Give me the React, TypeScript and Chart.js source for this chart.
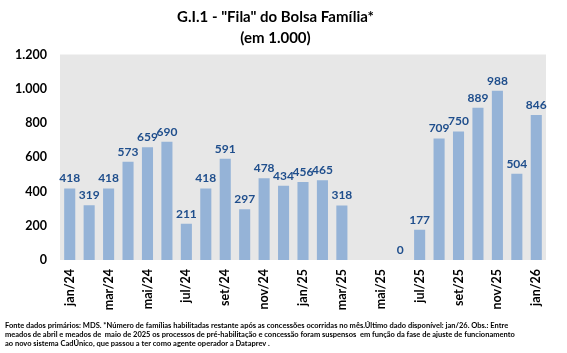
import React, { useEffect, useRef } from 'react';
import { Chart, registerables } from 'chart.js';

Chart.register(...registerables);

const categories = ['jan/24','fev/24','mar/24','abr/24','mai/24','jun/24','jul/24','ago/24','set/24','out/24','nov/24','dez/24','jan/25','fev/25','mar/25','abr/25','mai/25','jun/25','jul/25','ago/25','set/25','out/25','nov/25','dez/25','jan/26'];
const filaValues: (number | null)[] = [418,319,418,573,659,690,211,418,591,297,478,434,456,465,318,null,null,0,177,709,750,889,988,504,846];
const yTicks = [0, 200, 400, 600, 800, 1000, 1200];
const titleLines = ['G.I.1 - "Fila" do Bolsa Família*', '(em 1.000)'];
const footnoteLines = [
  'Fonte dados primários: MDS. *Número de famílias habilitadas restante após as concessões ocorridas no mês.Último dado disponível: jan/26. Obs.: Entre',
  'meados de abril e meados de  maio de 2025 os processos de pré-habilitação e concessão foram suspensos  em função da fase de ajuste de funcionamento',
  'ao novo sistema CadÚnico, que passou a ter como agente operador a Dataprev .',
];

const FONT = 'Lato, "Noto Sans", sans-serif';

function fmt(v: number): string {
  if (v >= 1000) return `${Math.floor(v / 1000)}.${String(v % 1000).padStart(3, '0')}`;
  return String(v);
}

const bgPlugin = {
  id: 'plotBg',
  beforeDatasetsDraw(chart: any) {
    const { ctx, chartArea } = chart;
    ctx.save();
    ctx.fillStyle = '#E7E7E7';
    ctx.fillRect(chartArea.left, chartArea.top, chartArea.right - chartArea.left, chartArea.bottom - chartArea.top);
    ctx.restore();
  },
};

const labelPlugin = {
  id: 'valueLabels',
  afterDatasetsDraw(chart: any) {
    const { ctx } = chart;
    const meta = chart.getDatasetMeta(0);
    const data = chart.data.datasets[0].data;
    ctx.save();
    ctx.font = `bold 12px ${FONT}`;
    ctx.fillStyle = '#1F4E8C';
    ctx.textAlign = 'center';
    ctx.textBaseline = 'middle';
    meta.data.forEach((bar: any, i: number) => {
      const v = data[i];
      if (v === null || v === undefined) return;
      ctx.fillText(String(v), bar.x, bar.y - 10);
    });
    ctx.restore();
  },
};

export default function App() {
  const ref = useRef<HTMLCanvasElement>(null);
  useEffect(() => {
    document.body.style.margin = '0';
    const chart = new Chart(ref.current!, {
      type: 'bar',
      data: {
        labels: categories,
        datasets: [{
          data: filaValues,
          backgroundColor: '#95B3D7',
          barPercentage: 0.57,
          categoryPercentage: 1,
        }],
      },
      options: {
        responsive: false,
        animation: false,
        layout: { padding: { left: 5, right: 21, top: 0, bottom: 0 } },
        plugins: {
          legend: { display: false },
          tooltip: { enabled: false },
          title: {
            display: true,
            text: titleLines,
            color: '#000',
            font: { family: FONT, size: 15, weight: 'bold', lineHeight: 1.45 },
            padding: { top: 6, bottom: 5 },
          },
          subtitle: {
            display: true,
            position: 'bottom',
            align: 'start',
            text: footnoteLines,
            color: '#000',
            font: { family: FONT, size: 7.5, weight: 'bold', lineHeight: 1.2 },
            padding: { top: 4, bottom: 5 },
          },
        },
        scales: {
          x: {
            grid: { display: false, drawTicks: false },
            border: { display: false },
            ticks: {
              autoSkip: false,
              minRotation: 90,
              maxRotation: 90,
              padding: 9,
              color: '#000',
              font: { family: FONT, size: 12.5, weight: 'bold' },
              callback: (_v: any, i: number) => (i % 2 === 0 ? categories[i] : ''),
            },
            afterFit: (s: any) => { s.height = 57; },
          },
          y: {
            min: 0,
            max: 1200,
            grid: { display: false, drawTicks: false },
            border: { display: false },
            afterBuildTicks: (s: any) => { s.ticks = yTicks.map((v) => ({ value: v })); },
            ticks: {
              padding: 13,
              color: '#000',
              font: { family: FONT, size: 12.5, weight: 'bold' },
              callback: (v: any) => fmt(Number(v)),
            },
            afterFit: (s: any) => { s.width = 55; },
          },
        },
      },
      plugins: [bgPlugin, labelPlugin],
    });
    return () => chart.destroy();
  }, []);
  return (
    <div style={{ position: 'absolute', left: 0, top: 0, width: 567, height: 353 }}>
      <canvas ref={ref} width={567} height={353} />
    </div>
  );
}
